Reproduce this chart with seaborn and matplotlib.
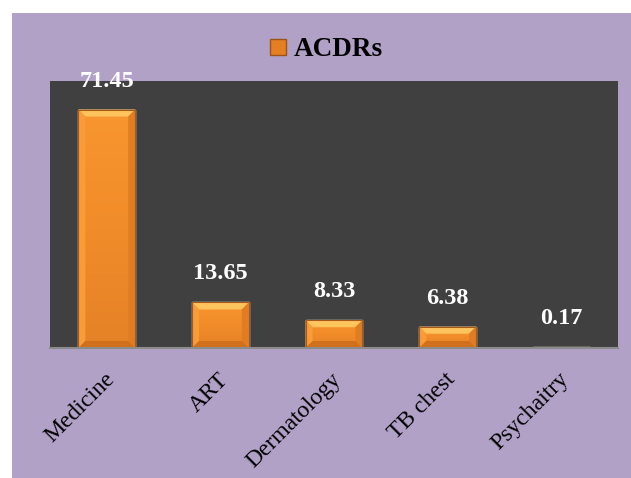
import numpy as np
import pandas as pd
import matplotlib
matplotlib.use("Agg")
import matplotlib.pyplot as plt
from matplotlib.patches import Rectangle, Polygon
from matplotlib.lines import Line2D
import seaborn as sns

departments = ["Medicine", "ART", "Dermatology", "TB chest", "Psychaitry"]
acdr_values = [71.45, 13.65, 8.33, 6.38, 0.17]
series_name = "ACDRs"

df = pd.DataFrame({"Department": departments, "Value": acdr_values})

sns.set_theme(style="white")
plt.rcParams["font.family"] = ["Liberation Serif", "DejaVu Serif"]
plt.rcParams["text.color"] = "black"

W, H = 631, 478
fig = plt.figure(figsize=(W / 100, H / 100), dpi=100)
fig.patch.set_facecolor("white")

# purple chart area with a thin white margin on the top and left
fig.patches.append(Rectangle((12 / W, 0), 1 - 12 / W, 1 - 13 / H,
                             transform=fig.transFigure, facecolor="#B1A1C7",
                             edgecolor="none", zorder=-10))

ax_left, ax_right, ax_top, ax_bottom = 50, 618, 81, 348
ax = fig.add_axes([ax_left / W, 1 - ax_bottom / H,
                   (ax_right - ax_left) / W, (ax_bottom - ax_top) / H])
ax.set_zorder(1)
ax.set_facecolor("#404040")

ymax = 80
sns.barplot(data=df, x="Department", y="Value", color="#F28A26", width=0.5,
            saturation=1, ax=ax, zorder=3)

# bevelled bars: soft vertical gradient plus lighter top / darker bottom edges
px_x = (ax_right - ax_left) / len(departments)   # pixels per x unit
px_y = (ax_bottom - ax_top) / ymax               # pixels per y unit
bevel_px = 7
grad = np.linspace(0, 1, 256).reshape(-1, 1)
body = matplotlib.colors.LinearSegmentedColormap.from_list(
    "body", ["#F8962F", "#F18C2A", "#E58227"])
for patch in list(ax.patches):
    x0, y0 = patch.get_x(), patch.get_y()
    w, h = patch.get_width(), patch.get_height()
    if h <= 0:
        continue
    img = ax.imshow(grad, cmap=body, aspect="auto",
                    extent=(x0, x0 + w, y0, y0 + h), origin="upper", zorder=4)
    img.set_clip_path(patch)
    b_px = min(bevel_px, h * px_y / 2)
    bx, by = b_px / px_x, b_px / px_y
    x1, y1 = x0 + w, y0 + h
    top = Polygon([(x0, y1), (x1, y1), (x1 - bx, y1 - by), (x0 + bx, y1 - by)],
                  closed=True, facecolor="#FFC45E", edgecolor="none", zorder=5)
    left = Polygon([(x0, y0), (x0, y1), (x0 + bx, y1 - by), (x0 + bx, y0 + by)],
                   closed=True, facecolor="#F89B38", edgecolor="none", zorder=5)
    right = Polygon([(x1, y0), (x1, y1), (x1 - bx, y1 - by), (x1 - bx, y0 + by)],
                    closed=True, facecolor="#E07C22", edgecolor="none", zorder=5)
    bottom = Polygon([(x0, y0), (x1, y0), (x1 - bx, y0 + by), (x0 + bx, y0 + by)],
                     closed=True, facecolor="#D0701C", edgecolor="none", zorder=5)
    for p in (top, left, right, bottom):
        ax.add_patch(p)
    ax.add_patch(Rectangle((x0, y0), w, h, facecolor="none",
                           edgecolor="#A85A18", linewidth=0.8, zorder=6))

ax.set_ylim(0, ymax)
ax.set_xlim(-0.5, len(departments) - 0.5)

for i, v in enumerate(acdr_values):
    ax.annotate(f"{v:.2f}", xy=(i, v), xytext=(0, 20.5), textcoords="offset points",
                ha="center", va="center", color="white", fontsize=17.5,
                fontweight="bold", zorder=7, annotation_clip=False)

for s in ["top", "right", "left"]:
    ax.spines[s].set_visible(False)
ax.spines["bottom"].set_color("#8C8C8C")
ax.spines["bottom"].set_linewidth(1.5)
ax.spines["bottom"].set_zorder(7)
ax.set_yticks([])
ax.set_xlabel("")
ax.set_ylabel("")
ax.tick_params(axis="x", length=0, pad=15)
ax.set_xticks(range(len(departments)))
ax.set_xticklabels(departments, rotation=45, ha="right", rotation_mode="anchor",
                   fontsize=17, color="black")
offset = matplotlib.transforms.ScaledTranslation(-3 / 100, 0, fig.dpi_scale_trans)
for lbl in ax.get_xticklabels():
    lbl.set_transform(lbl.get_transform() + offset)

handle = Line2D([0], [0], marker="s", linestyle="none", markersize=11,
                markerfacecolor="#E57F24", markeredgecolor="#9E5416")
leg = fig.legend([handle], [series_name], loc="center", bbox_to_anchor=(325 / W, 1 - 50 / H),
                 frameon=False, prop={"family": "Liberation Serif", "weight": "bold", "size": 19.5},
                 handletextpad=0.15, handlelength=0.8)
for t in leg.get_texts():
    t.set_color("black")

fig.savefig("out.png", dpi=100, facecolor=fig.get_facecolor())
